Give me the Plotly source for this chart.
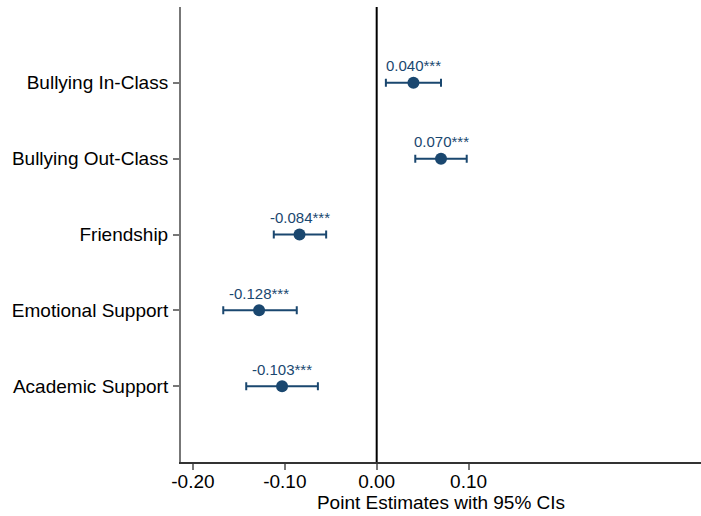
import plotly.graph_objects as go

categories = ["Bullying In-Class", "Bullying Out-Class", "Friendship", "Emotional Support", "Academic Support"]
estimates = [0.040, 0.070, -0.084, -0.128, -0.103]
ci_low = [0.010, 0.042, -0.112, -0.167, -0.142]
ci_high = [0.070, 0.098, -0.055, -0.087, -0.064]
labels = ["0.040***", "0.070***", "-0.084***", "-0.128***", "-0.103***"]
x_ticks = [-0.20, -0.10, 0.00, 0.10]
x_tick_labels = ["-0.20", "-0.10", "0.00", "0.10"]

navy = "#1a476f"
font = "Liberation Sans, Arial, Helvetica, sans-serif"
ypos = list(range(1, len(categories) + 1))

fig = go.Figure()
fig.add_trace(go.Scatter(
    x=estimates, y=ypos, mode="markers",
    marker=dict(color=navy, size=12),
    error_x=dict(type="data", symmetric=False,
                 array=[h - e for h, e in zip(ci_high, estimates)],
                 arrayminus=[e - l for e, l in zip(estimates, ci_low)],
                 color=navy, thickness=2, width=4),
    showlegend=False, hoverinfo="skip",
))

for x, y, t in zip(estimates, ypos, labels):
    fig.add_annotation(x=x, y=y, text=t, showarrow=False, yshift=17,
                       font=dict(family=font, size=15, color=navy))

fig.add_shape(type="line", x0=0, x1=0, y0=0, y1=1, xref="x", yref="paper",
              line=dict(color="black", width=2))

fig.update_layout(
    width=701, height=516,
    margin=dict(l=181, r=0, t=7, b=54),
    plot_bgcolor="white", paper_bgcolor="white",
    font=dict(family=font, size=19, color="black"),
    xaxis=dict(range=[-0.213, 0.353], tickvals=x_ticks, ticktext=x_tick_labels,
               showgrid=False, zeroline=False, showline=True, linecolor="#333333",
               linewidth=2, ticks="outside", ticklen=6, tickcolor="#777777", tickwidth=2,
               ticklabelstandoff=-5,
               title=dict(text="Point Estimates with 95% CIs", standoff=0,
                          font=dict(size=19)),
               tickfont=dict(size=19)),
    yaxis=dict(range=[6, 0], tickvals=ypos, ticktext=categories,
               showgrid=False, zeroline=False, showline=True, linecolor="#777777",
               linewidth=2, ticks="outside", ticklen=6, tickcolor="#777777", tickwidth=1.5,
               ticklabelstandoff=1, tickfont=dict(size=19)),
)

fig.write_html("out.html", config={"displayModeBar": False},
               post_script="document.body.style.margin='0';document.body.style.overflow='hidden';")
